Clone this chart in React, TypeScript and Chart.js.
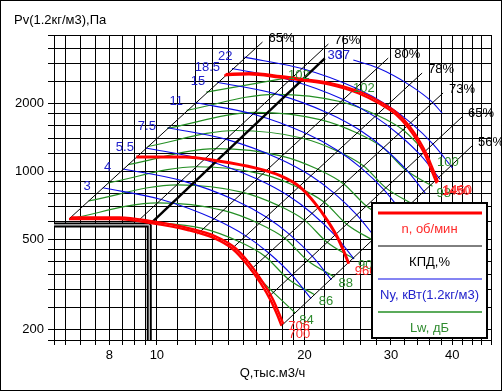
import React, { useEffect, useRef } from 'react';
import { Chart, registerables } from 'chart.js';

Chart.register(...registerables);

type Pt = [number, number];

// ---- axes ----
const X_MIN = 6.17;
const X_MAX = 48;
const Y_MIN = 180;
const Y_MAX = 4000;
const X_GRID = [6.17, 6.5, 7, 7.5, 8, 8.5, 9, 9.5, 10, 11, 12, 13, 14, 15, 16, 17, 18, 19, 20, 22, 24, 26, 28, 30, 32, 34, 36, 38, 40, 42, 44, 46, 48];
const X_LABELS = [8, 10, 20, 30, 40];
const Y_GRID = [180, 200, 250, 300, 350, 400, 450, 500, 600, 700, 800, 900, 1000, 1200, 1400, 1600, 1800, 2000, 2500, 3000, 3500, 4000];
const Y_LABELS = [200, 500, 1000, 2000];

// ---- rpm curves (red) ----
const RED_700: Pt[] = [[6.62, 616], [8.33, 616], [9.72, 591], [11.56, 551], [13.05, 508], [14.27, 454], [15.3, 386], [16.27, 321], [17.05, 270], [17.6, 232], [17.95, 208]];
const RED_706: Pt[] = [[6.68, 626], [8.4, 626], [9.8, 601], [11.66, 560], [13.16, 517], [14.39, 462], [15.43, 393], [16.41, 326], [17.2, 275], [17.75, 236], [18.1, 212]];
const RED_960: Pt[] = [[9.08, 1158], [11.42, 1158], [13.33, 1111], [15.85, 1036], [17.89, 955], [19.56, 854], [20.98, 726], [22.31, 603], [23.38, 508], [24.13, 436], [24.61, 391]];
const RED_1450: Pt[] = [[13.72, 2653], [15.41, 2681], [17.75, 2599], [19.76, 2521], [22.42, 2422], [25.81, 2209], [28.35, 1995], [30.69, 1784], [32.62, 1549], [34.19, 1329], [35.32, 1164], [36.15, 1031], [37.19, 885]];
const RED_1460: Pt[] = [[13.81, 2690], [15.52, 2718], [17.87, 2635], [19.9, 2556], [22.57, 2455], [25.99, 2239], [28.54, 2023], [30.9, 1809], [32.84, 1570], [34.42, 1347], [35.56, 1180], [36.4, 1045], [37.44, 897]];
const RED_LABELS = ['700', '706', '960', '1450', '1460'];

// ---- efficiency lines (black) ----
const EFF_65A: Pt[] = [[6.62, 616], [16.42, 3724]];
const EFF_76: Pt[] = [[9.15, 603], [22.37, 3649]];
const EFF_80: Pt[] = [[12.11, 529], [29.63, 3165]];
const EFF_78: Pt[] = [[14.2, 454], [34.74, 2718]];
const EFF_73: Pt[] = [[15.52, 367], [38.33, 2218]];
const EFF_65B: Pt[] = [[16.89, 279], [41.89, 1737]];
const EFF_56: Pt[] = [[17.95, 208], [43.9, 1294]];
const EFF_LABELS = ['65%', '76%', '80%', '78%', '73%', '65%', '56%'];

// ---- operating point / system line ----
const OP_H: Pt[] = [[6.17, 580], [9.65, 580]];
const OP_V: Pt[] = [[9.65, 580], [9.65, 180]];
const SYSTEM: Pt[] = [[9.65, 580], [22, 3150]];

// ---- power lines (blue) ----
const N_3: Pt[] = [[7.76, 846], [10.21, 751], [13.08, 617], [15.18, 519], [16.91, 436], [18.86, 348], [20.62, 274]];
const N_4: Pt[] = [[8.54, 1025], [11.24, 910], [14.4, 748], [16.71, 629], [18.62, 528], [20.76, 421], [22.69, 332]];
const N_5_5: Pt[] = [[9.5, 1268], [12.5, 1125], [16.01, 925], [18.58, 778], [20.7, 653], [23.08, 521], [25.23, 411]];
const N_7_5: Pt[] = [[10.53, 1559], [13.86, 1384], [17.76, 1137], [20.61, 956], [22.95, 803], [25.59, 641], [27.98, 505]];
const N_11: Pt[] = [[11.96, 2012], [15.75, 1787], [20.17, 1469], [23.41, 1234], [26.08, 1036], [29.08, 827], [31.79, 652]];
const N_15: Pt[] = [[13.27, 2474], [17.47, 2198], [22.37, 1806], [25.96, 1518], [28.92, 1274], [32.25, 1017], [35.25, 802]];
const N_18_5: Pt[] = [[14.23, 2846], [18.73, 2526], [23.99, 2077], [27.84, 1745], [31.0, 1465], [34.58, 1170], [37.81, 922]];
const N_22: Pt[] = [[15.08, 3193], [19.84, 2836], [25.42, 2331], [29.5, 1959], [32.86, 1645], [36.64, 1313], [40.05, 1035]];
const N_30: Pt[] = [[25.15, 3100], [28.18, 2866], [32.71, 2409], [36.43, 2023], [38.15, 1809]];
const N_LABELS = ['3', '4', '5.5', '7.5', '11', '15', '18.5', '22'];

// ---- sound power lines (green) ----
const LW_84: Pt[] = [[15.52, 367], [17.28, 292], [19.15, 237]];
const LW_86: Pt[] = [[9.15, 603], [12.45, 559], [14.73, 489], [16.63, 421], [18.52, 335], [20.99, 285]];
const LW_88: Pt[] = [[6.62, 616], [10.03, 725], [13.65, 672], [16.15, 588], [18.23, 507], [20.31, 403], [23.02, 342]];
const LW_90: Pt[] = [[7.26, 741], [11.0, 872], [14.97, 808], [17.71, 706], [19.99, 609], [22.27, 485], [25.24, 411]];
const LW_92: Pt[] = [[7.96, 890], [12.06, 1048], [16.41, 972], [19.42, 849], [21.92, 732], [24.41, 583], [27.67, 494]];
const LW_94: Pt[] = [[8.73, 1070], [13.23, 1260], [17.99, 1168], [21.3, 1021], [24.04, 880], [26.77, 701], [30.34, 594]];
const LW_96: Pt[] = [[9.57, 1287], [14.5, 1515], [19.73, 1404], [23.35, 1228], [26.36, 1058], [29.35, 843], [33.27, 715]];
const LW_98: Pt[] = [[10.49, 1547], [15.9, 1821], [21.63, 1688], [25.6, 1476], [28.9, 1273], [32.18, 1013], [36.48, 859]];
const LW_100: Pt[] = [[11.5, 1860], [17.44, 2189], [23.72, 2030], [28.07, 1774], [31.69, 1530], [35.29, 1218]];
const LW_102: Pt[] = [[12.61, 2237], [19.07, 2620]];
const LW_END_LABELS = ['84', '86', '88', '90', '92', '94', '96', '98'];

// free-standing labels [text, Q, P]
const EXTRA_BLUE: [string, number, number][] = [['30', 23.85, 3263], ['37', 24.76, 3263]];
const EXTRA_GREEN: [string, number, number][] = [['100', 37.25, 1099], ['102', 18.51, 2662], ['102', 25.11, 2333]];

const FONT = '"Liberation Sans", Arial, sans-serif';
const RED = '#ff0000';
const RED_TXT = '#ff2a2a';
const BLUE = '#0b0be6';
const BLUE_TXT = '#2222cc';
const GREEN = '#248f24';
const GREEN_TXT = '#2e8b2e';
const BLACK = '#000000';

type TextItem = { text: string; q: number; p: number; dx: number; dy: number; color: string; align: CanvasTextAlign };

export default function App() {
  const ref = useRef<HTMLCanvasElement | null>(null);

  useEffect(() => {
    const canvas = ref.current;
    if (!canvas) return;
    const xy = (a: Pt[]) => a.map(([x, y]) => ({ x, y }));
    const ds = (label: string, data: Pt[], color: string, width: number, order: number, smooth: boolean) => ({
      label,
      data: xy(data),
      borderColor: color,
      backgroundColor: color,
      borderWidth: width,
      pointRadius: 0,
      pointHoverRadius: 0,
      fill: false,
      order,
      tension: 0,
      cubicInterpolationMode: smooth ? 'monotone' : 'default',
    });

    const effs = [EFF_65A, EFF_76, EFF_80, EFF_78, EFF_73, EFF_65B, EFF_56];
    const blues = [N_3, N_4, N_5_5, N_7_5, N_11, N_15, N_18_5, N_22, N_30];
    const greens = [LW_84, LW_86, LW_88, LW_90, LW_92, LW_94, LW_96, LW_98, LW_100, LW_102];
    const reds = [RED_700, RED_706, RED_960, RED_1450, RED_1460];

    const datasets: any[] = [];
    greens.forEach((g, i) => datasets.push(ds('lw' + i, g, GREEN, 1.2, 6, true)));
    blues.forEach((b, i) => datasets.push(ds('n' + i, b, BLUE, 1.1, 5, true)));
    effs.forEach((e, i) => datasets.push(ds('eff' + i, e, BLACK, 1, 4, false)));
    datasets.push(ds('sys', SYSTEM, BLACK, 2.4, 3, false));
    datasets.push(ds('opH', OP_H, BLACK, 5, 2, false));
    datasets.push(ds('opV', OP_V, BLACK, 5, 2, false));
    datasets.push(ds('opHw', OP_H, '#d8d8d8', 1.2, 1, false));
    datasets.push(ds('opVw', OP_V, '#d8d8d8', 1.2, 1, false));
    reds.forEach((r, i) => datasets.push(ds('red' + i, r, RED, i < 2 ? 2.4 : i === 2 ? 3 : 2.2, 0, true)));

    const texts: TextItem[] = [];
    effs.forEach((e, i) => {
      const p = e[e.length - 1];
      texts.push({ text: EFF_LABELS[i], q: p[0], p: p[1], dx: 6, dy: -4, color: BLACK, align: 'left' });
    });
    blues.slice(0, N_LABELS.length).forEach((b, i) => {
      const p = b[0];
      texts.push({ text: N_LABELS[i], q: p[0], p: p[1], dx: -12, dy: -1, color: BLUE_TXT, align: 'right' });
    });
    EXTRA_BLUE.forEach(([t, q, p]) => texts.push({ text: t, q, p, dx: 0, dy: 0, color: BLUE_TXT, align: 'right' }));
    greens.slice(0, LW_END_LABELS.length).forEach((g, i) => {
      const p = g[g.length - 1];
      texts.push({ text: LW_END_LABELS[i], q: p[0], p: p[1], dx: 4, dy: 7, color: GREEN_TXT, align: 'left' });
    });
    EXTRA_GREEN.forEach(([t, q, p]) => texts.push({ text: t, q, p, dx: 0, dy: 0, color: GREEN_TXT, align: 'left' }));
    const redOff: [number, number][] = [[7, 9], [5, 3], [6, 8], [5, 8], [5, 8]];
    reds.forEach((r, i) => {
      const p = r[r.length - 1];
      texts.push({ text: RED_LABELS[i], q: p[0], p: p[1], dx: redOff[i][0], dy: redOff[i][1], color: RED_TXT, align: 'left' });
    });

    const textPlugin = {
      id: 'fanTexts',
      afterDatasetsDraw(chart: any) {
        const { ctx, scales, chartArea } = chart;
        const sx = scales.x;
        const sy = scales.y;
        ctx.save();
        ctx.font = '13px ' + FONT;
        ctx.textBaseline = 'middle';
        texts.forEach((t) => {
          ctx.fillStyle = t.color;
          ctx.textAlign = t.align;
          ctx.fillText(t.text, sx.getPixelForValue(t.q) + t.dx, sy.getPixelForValue(t.p) + t.dy);
        });
        ctx.fillStyle = BLACK;
        ctx.textAlign = 'left';
        ctx.fillText('Pv(1.2кг/м3),Па', chartArea.left - 40, chartArea.top - 15);
        ctx.textAlign = 'center';
        ctx.fillText('Q,тыс.м3/ч', (chartArea.left + chartArea.right) / 2, chartArea.bottom + 33);
        ctx.restore();
      },
      afterDraw(chart: any) {
        const { ctx, chartArea, width, height } = chart;
        ctx.save();
        const L = chartArea.right - 119;
        const R = chartArea.right - 4;
        const T = chartArea.bottom - 137;
        const B = chartArea.bottom - 2;
        ctx.fillStyle = '#ffffff';
        ctx.fillRect(L, T, R - L, B - T);
        ctx.strokeStyle = BLACK;
        ctx.lineWidth = 2;
        ctx.strokeRect(L, T, R - L, B - T);
        const entries: [string, string, string, number][] = [
          [RED, RED_TXT, 'n, об/мин', 3],
          [BLACK, BLACK, 'КПД,%', 1],
          [BLUE, BLUE_TXT, 'Ny, кВт(1.2кг/м3)', 1],
          [GREEN, GREEN_TXT, 'Lw, дБ', 1.5],
        ];
        ctx.font = '13px ' + FONT;
        ctx.textAlign = 'center';
        ctx.textBaseline = 'middle';
        entries.forEach(([lc, tc, txt, lw], i) => {
          const ly = T + 10 + i * 33;
          ctx.strokeStyle = lc;
          ctx.lineWidth = lw;
          ctx.beginPath();
          ctx.moveTo(L + 6, ly);
          ctx.lineTo(R - 5, ly);
          ctx.stroke();
          ctx.fillStyle = tc;
          ctx.fillText(txt, (L + R) / 2, ly + 16);
        });
        ctx.strokeStyle = BLACK;
        ctx.lineWidth = 1;
        ctx.strokeRect(0.5, 0.5, width - 1, height - 1);
        ctx.restore();
      },
    };

    const tickFont = { family: FONT, size: 13 };
    const chart = new Chart(canvas, {
      type: 'line',
      data: { datasets },
      options: {
        animation: false,
        responsive: false,
        events: [],
        layout: { padding: { top: 35, right: 11, left: 0, bottom: 0 } },
        plugins: { legend: { display: false }, tooltip: { enabled: false }, title: { display: false } },
        scales: {
          x: {
            type: 'logarithmic',
            min: X_MIN,
            max: X_MAX,
            afterBuildTicks: (s: any) => {
              s.ticks = X_GRID.map((v) => ({ value: v }));
            },
            afterFit: (s: any) => {
              s.height = 51;
              s.paddingLeft = 0;
              s.paddingRight = 0;
            },
            ticks: {
              autoSkip: false,
              maxRotation: 0,
              minRotation: 0,
              color: BLACK,
              font: tickFont,
              padding: 3,
              callback: (v: any) => (X_LABELS.includes(Number(v)) ? String(v) : ''),
            },
            grid: { color: BLACK, lineWidth: 1, tickLength: 5 },
            border: { color: BLACK, width: 1 },
          },
          y: {
            type: 'logarithmic',
            min: Y_MIN,
            max: Y_MAX,
            afterBuildTicks: (s: any) => {
              s.ticks = Y_GRID.map((v) => ({ value: v }));
            },
            afterFit: (s: any) => {
              s.width = 54;
              s.paddingTop = 0;
              s.paddingBottom = 0;
            },
            ticks: {
              autoSkip: false,
              color: BLACK,
              font: tickFont,
              padding: 4,
              callback: (v: any) => (Y_LABELS.includes(Number(v)) ? String(v) : ''),
            },
            grid: { color: BLACK, lineWidth: 1, tickLength: 6 },
            border: { color: BLACK, width: 1 },
          },
        },
      } as any,
      plugins: [textPlugin],
    });
    return () => chart.destroy();
  }, []);

  return (
    <div style={{ position: 'absolute', left: 0, top: 0, width: 502, height: 391, background: '#fff' }}>
      <canvas ref={ref} width={502} height={391} style={{ display: 'block', width: 502, height: 391 }} />
    </div>
  );
}
